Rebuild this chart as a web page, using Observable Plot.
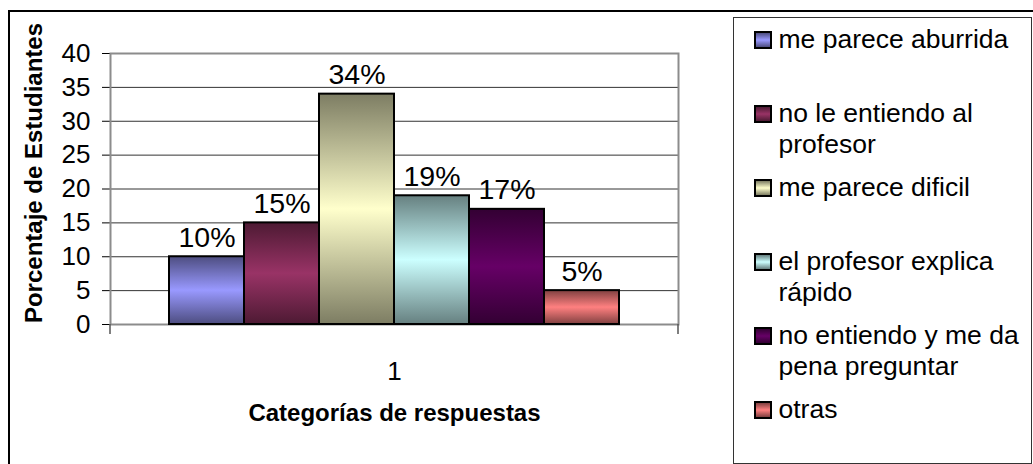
<!DOCTYPE html>
<html><head><meta charset="utf-8">
<script src="https://cdn.jsdelivr.net/npm/d3@7"></script>
<script src="https://cdn.jsdelivr.net/npm/@observablehq/plot@0.6"></script>
<style>
html,body{margin:0;padding:0;background:#fff;}
#wrap{position:relative;width:1033px;height:464px;overflow:hidden;font-family:"Liberation Sans",Arial,sans-serif;background:#fff;}
#outer{position:absolute;left:8px;top:10px;width:1100px;height:600px;border:2px solid #000;box-sizing:border-box;}
#chart{position:absolute;left:0;top:0;}
#legend{position:absolute;left:733px;top:17px;width:299px;height:447px;border:1.5px solid #333;box-sizing:border-box;background:#fff;}
.item{position:absolute;left:19.5px;display:flex;align-items:flex-start;}
.sw{width:18px;height:18px;border:2px solid #000;box-sizing:border-box;margin-top:6.5px;margin-right:7px;flex:none;}
.lab{font-size:26.5px;line-height:31px;width:252px;color:#000;}
</style>
</head><body>
<div id="wrap">
  <div id="outer"></div>
  <div id="chart"></div>
  <div id="legend"></div>
</div>
<script>
// ---- data ----
const categories = ["1"];
const series = [
  "me parece aburrida",
  "no le entiendo al profesor",
  "me parece dificil",
  "el profesor explica rápido",
  "no entiendo y me da pena preguntar",
  "otras"
];
const values = [10, 15, 34, 19, 17, 5];
const lightColors = ["#9999ff", "#993366", "#ffffcc", "#ccffff", "#660066", "#ff8080"];
const darkColors  = ["#4d4d80", "#4d1a33", "#7d7d63", "#668080", "#330033", "#804040"];
const yTicks = [0, 5, 10, 15, 20, 25, 30, 35, 40];
const yTitle = "Porcentaje de Estudiantes";
const xTitle = "Categorías de respuestas";

const data = series.map((s, i) => ({cat: categories[0], name: s, value: values[i], grad: `url(#grad${i})`}));

const plot = Plot.plot({
  width: 720, height: 464,
  marginLeft: 110, marginRight: 42, marginTop: 53, marginBottom: 140,
  style: {fontFamily: "'Liberation Sans', Arial, sans-serif", fontSize: "26px", color: "#000", background: "transparent", overflow: "visible"},
  fx: {domain: categories, padding: 0, axis: "bottom", tickSize: 0, tickPadding: 37, label: xTitle, labelAnchor: "center", labelOffset: 96, labelArrow: "none"},
  x: {domain: series, axis: null, paddingInner: 0, paddingOuter: 0.737},
  y: {domain: [0, 40], ticks: yTicks, tickSize: 8, tickPadding: 12, label: yTitle, labelAnchor: "center", labelOffset: 86, labelArrow: "none"},
  color: {type: "identity"},
  marks: [
    Plot.ruleY(yTicks, {stroke: "#333", strokeWidth: 1}),
    Plot.frame({stroke: "#8c8c8c", strokeWidth: 2}),
    Plot.barY(data, {fx: "cat", x: "name", y: "value", fill: "grad", stroke: "#000", strokeWidth: 2}),
    Plot.text(data, {fx: "cat", x: "name", y: "value", text: d => `${d.value}%`, lineAnchor: "bottom", dy: -10, fontSize: 28.5})
  ]
});

const svg = d3.select(plot);
const defs = svg.insert("defs", ":first-child");
series.forEach((s, i) => {
  const g = defs.append("linearGradient").attr("id", `grad${i}`)
    .attr("x1", 0).attr("y1", 0).attr("x2", 0).attr("y2", 1);
  g.append("stop").attr("offset", "0%").attr("stop-color", darkColors[i]);
  g.append("stop").attr("offset", "50%").attr("stop-color", lightColors[i]);
  g.append("stop").attr("offset", "100%").attr("stop-color", darkColors[i]);
});

// axis titles bold
svg.selectAll('g[aria-label="y-axis label"], g[aria-label="fx-axis label"]')
  .attr("font-weight", "bold").attr("font-size", 24);
svg.selectAll('g[aria-label="y-axis label"] text, g[aria-label="fx-axis label"] text')
  .attr("font-weight", "bold").attr("font-size", 24)
  .each(function() { this.textContent = this.textContent.replace(/\s*[↑→←↓]\s*/g, ""); });
const yl = svg.select('g[aria-label="y-axis label"]');
yl.attr("transform", (yl.attr("transform") || "") + " translate(0,-16)");
svg.selectAll('g[aria-label="y-axis tick"]').attr("stroke", "#555");

// category edge tick marks
try {
  const fxs = plot.scale("fx");
  const ys = plot.scale("y");
  const y0 = ys.apply(0);
  const [r0, r1] = fxs.range;
  [r0, r1].forEach(xv => {
    svg.append("line").attr("x1", xv).attr("x2", xv).attr("y1", y0).attr("y2", y0 + 10)
      .attr("stroke", "#555").attr("stroke-width", 1.5);
  });
} catch (e) {}

document.getElementById("chart").appendChild(plot);

// legend
const leg = document.getElementById("legend");
series.forEach((s, i) => {
  const it = document.createElement("div");
  it.className = "item";
  it.style.top = (6 + i * 74) + "px";
  const sw = document.createElement("div");
  sw.className = "sw";
  sw.style.background = `linear-gradient(to bottom, ${darkColors[i]}, ${lightColors[i]} 50%, ${darkColors[i]})`;
  const lab = document.createElement("div");
  lab.className = "lab";
  lab.textContent = s;
  it.appendChild(sw); it.appendChild(lab);
  leg.appendChild(it);
});
</script>
</body></html>
